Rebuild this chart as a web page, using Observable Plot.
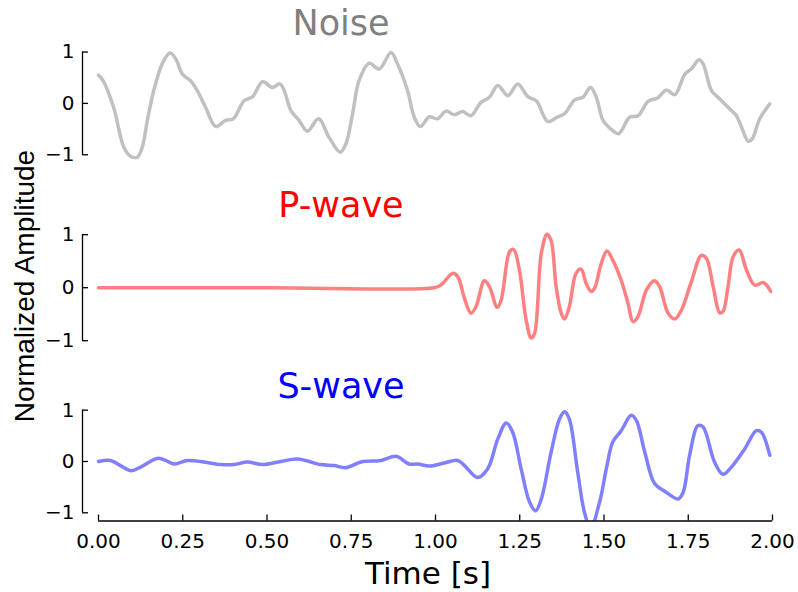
<!DOCTYPE html>
<html><head><meta charset="utf-8">
<script src="https://cdn.jsdelivr.net/npm/d3@7"></script>
<script src="https://cdn.jsdelivr.net/npm/@observablehq/plot@0.6"></script>
<style>
body{margin:0;background:#fff;}
#wrap{position:relative;width:798px;height:592px;overflow:hidden;font-family:"DejaVu Sans";}
.panel{position:absolute;left:0;}
#overlay{position:absolute;left:0;top:0;pointer-events:none;}
</style></head><body><div id="wrap"></div>
<script>
// ---- data (time [s], normalized amplitude) ----
const xTicks = [0, 0.25, 0.5, 0.75, 1, 1.25, 1.5, 1.75, 2];
const yTicks = [-1, 0, 1];
const titles = ["Noise", "P-wave", "S-wave"];
const titleColors = ["#808080", "#ff0000", "#0000ff"];
const lineColors = ["#c0c0c0", "#ff8080", "#8080ff"];

const noise = [[0,0.55],[0.014,0.44],[0.045,-0.08],[0.075,-0.85],[0.095,-1.03],[0.115,-1.05],[0.13,-0.85],[0.145,-0.33],[0.164,0.25],[0.189,0.77],[0.212,0.98],[0.229,0.87],[0.249,0.57],[0.273,0.44],[0.293,0.25],[0.318,-0.08],[0.348,-0.45],[0.377,-0.33],[0.40,-0.30],[0.432,0.05],[0.457,0.13],[0.487,0.42],[0.516,0.31],[0.538,0.38],[0.551,0.25],[0.571,-0.14],[0.595,-0.33],[0.62,-0.54],[0.653,-0.30],[0.684,-0.66],[0.717,-0.95],[0.734,-0.79],[0.754,-0.2],[0.773,0.44],[0.803,0.78],[0.833,0.67],[0.868,0.99],[0.887,0.77],[0.917,0.25],[0.937,-0.27],[0.955,-0.45],[0.982,-0.26],[1.006,-0.3],[1.031,-0.15],[1.056,-0.22],[1.081,-0.16],[1.105,-0.24],[1.135,0.02],[1.16,0.12],[1.185,0.35],[1.215,0.15],[1.244,0.38],[1.274,0.13],[1.299,0.05],[1.333,-0.35],[1.363,-0.26],[1.383,-0.2],[1.413,0.07],[1.437,0.12],[1.46,0.31],[1.477,0.12],[1.497,-0.33],[1.517,-0.48],[1.543,-0.59],[1.576,-0.27],[1.601,-0.24],[1.631,0.04],[1.66,0.11],[1.685,0.26],[1.71,0.17],[1.74,0.57],[1.759,0.67],[1.782,0.85],[1.794,0.77],[1.819,0.25],[1.843,0.09],[1.878,-0.14],[1.893,-0.24],[1.908,-0.46],[1.928,-0.74],[1.94,-0.69],[1.962,-0.30],[1.992,-0.01]];

const pwave = [[0,0],[0.5,0],[0.996,0],[1.016,0.05],[1.051,0.27],[1.066,0.21],[1.086,-0.2],[1.105,-0.48],[1.12,-0.36],[1.145,0.13],[1.16,0.02],[1.183,-0.37],[1.195,-0.23],[1.22,0.68],[1.232,0.72],[1.249,0.33],[1.269,-0.61],[1.284,-0.95],[1.294,-0.86],[1.314,0.65],[1.331,1.01],[1.343,0.89],[1.358,0.02],[1.373,-0.48],[1.383,-0.59],[1.397,-0.36],[1.417,0.27],[1.432,0.35],[1.447,0.08],[1.462,-0.07],[1.472,-0.01],[1.492,0.46],[1.509,0.69],[1.526,0.52],[1.551,0.14],[1.571,-0.29],[1.586,-0.64],[1.601,-0.54],[1.626,-0.04],[1.65,0.13],[1.665,0.02],[1.69,-0.48],[1.71,-0.59],[1.73,-0.42],[1.759,0.11],[1.789,0.61],[1.804,0.55],[1.824,0.02],[1.843,-0.47],[1.853,-0.45],[1.868,0.02],[1.883,0.58],[1.901,0.71],[1.923,0.33],[1.947,0.05],[1.972,0.1],[1.982,0.05],[1.995,-0.07]];

const swave = [[0,0],[0.036,0.02],[0.065,-0.08],[0.097,-0.18],[0.125,-0.11],[0.174,0.06],[0.199,0.02],[0.224,-0.05],[0.264,0.02],[0.313,-0.01],[0.363,-0.06],[0.402,-0.06],[0.442,-0.01],[0.486,-0.06],[0.541,0],[0.59,0.05],[0.66,-0.06],[0.699,-0.08],[0.734,-0.12],[0.779,-0.01],[0.838,0.02],[0.883,0.1],[0.922,-0.05],[0.947,-0.05],[0.982,-0.09],[1.026,-0.03],[1.066,0.02],[1.086,-0.08],[1.125,-0.31],[1.155,-0.14],[1.185,0.44],[1.21,0.75],[1.229,0.57],[1.254,-0.14],[1.279,-0.79],[1.297,-0.96],[1.314,-0.73],[1.343,0.18],[1.368,0.83],[1.383,0.97],[1.397,0.83],[1.422,-0.21],[1.442,-0.99],[1.46,-1.3],[1.487,-0.79],[1.507,-0.14],[1.526,0.38],[1.551,0.6],[1.581,0.9],[1.596,0.8],[1.621,0.18],[1.65,-0.43],[1.68,-0.58],[1.72,-0.73],[1.735,-0.6],[1.754,0.12],[1.779,0.7],[1.794,0.67],[1.828,-0.01],[1.853,-0.25],[1.878,-0.11],[1.918,0.25],[1.952,0.6],[1.967,0.57],[1.992,0.12]];

const series = [noise, pwave, swave];

// ---- layout ----
const W = 798, spineOffset = 16;
const panels = [
  {top: 0,   height: 185, mt: 46.4, mb: 25.6, domain: [-1.1, 1.1]},
  {top: 185, height: 180, mt: 46,   mb: 21.6, domain: [-1.06, 1.06]},
  {top: 365, height: 227, mt: 41.6, mb: 71.5, domain: [-1.16, 1.06]}
];

const wrap = document.getElementById("wrap");
const fmtY = d3.format("d"), fmtX = d3.format(".2f");

panels.forEach((p, i) => {
  const last = i === panels.length - 1;
  const marks = [
    Plot.ruleX([xTicks[0]], {y1: d3.min(yTicks), y2: d3.max(yTicks), dx: -spineOffset, stroke: "black", strokeWidth: 1.3}),
    Plot.axisY({ticks: yTicks, tickFormat: fmtY, tickSize: -6, tickPadding: 14, fontSize: 20, stroke: "black", strokeWidth: 1.3, fill: "black", label: null}),
    Plot.line(series[i], {x: d => d[0], y: d => d[1], stroke: lineColors[i], strokeWidth: 3.5, curve: "catmull-rom", clip: true})
  ];
  if (last) {
    marks.push(
      Plot.ruleY([p.domain[0]], {x1: d3.min(xTicks), x2: d3.max(xTicks), stroke: "black", strokeWidth: 1.3}),
      Plot.axisX({ticks: xTicks, tickFormat: fmtX, tickSize: -6, tickPadding: 19, fontSize: 20, stroke: "black", strokeWidth: 1.3, fill: "black", label: null})
    );
  }
  const chart = Plot.plot({
    width: W, height: p.height,
    marginLeft: 82, marginRight: 26, marginTop: p.mt, marginBottom: p.mb,
    insetLeft: spineOffset,
    x: last ? {domain: [0, 2]} : {domain: [0, 2], axis: null},
    y: {domain: p.domain},
    style: {fontFamily: "DejaVu Sans", fontSize: "20px", background: "transparent", color: "black", overflow: "visible"},
    marks
  });
  chart.classList.add("panel");
  chart.style.top = p.top + "px";
  wrap.appendChild(chart);
});

// ---- text overlay: titles and axis labels ----
const ns = "http://www.w3.org/2000/svg";
const ov = document.createElementNS(ns, "svg");
ov.setAttribute("id", "overlay");
ov.setAttribute("width", W); ov.setAttribute("height", 592);
function addText(str, attrs, style) {
  const t = document.createElementNS(ns, "text");
  for (const k in attrs) t.setAttribute(k, attrs[k]);
  t.setAttribute("style", style);
  t.textContent = str;
  ov.appendChild(t);
}
const titleBaselines = [35, 217, 398];
titles.forEach((s, i) => addText(s, {x: 341, y: titleBaselines[i], "text-anchor": "middle", fill: titleColors[i]}, "font-family:'DejaVu Sans';font-size:35px"));
addText("Time [s]", {x: 428, y: 584, "text-anchor": "middle", fill: "black"}, "font-family:'DejaVu Sans';font-size:31px");
addText("Normalized Amplitude", {transform: "translate(33.5,286) rotate(-90)", "text-anchor": "middle", fill: "black"}, "font-family:'Liberation Sans';font-size:28px");
wrap.appendChild(ov);
</script></body></html>
